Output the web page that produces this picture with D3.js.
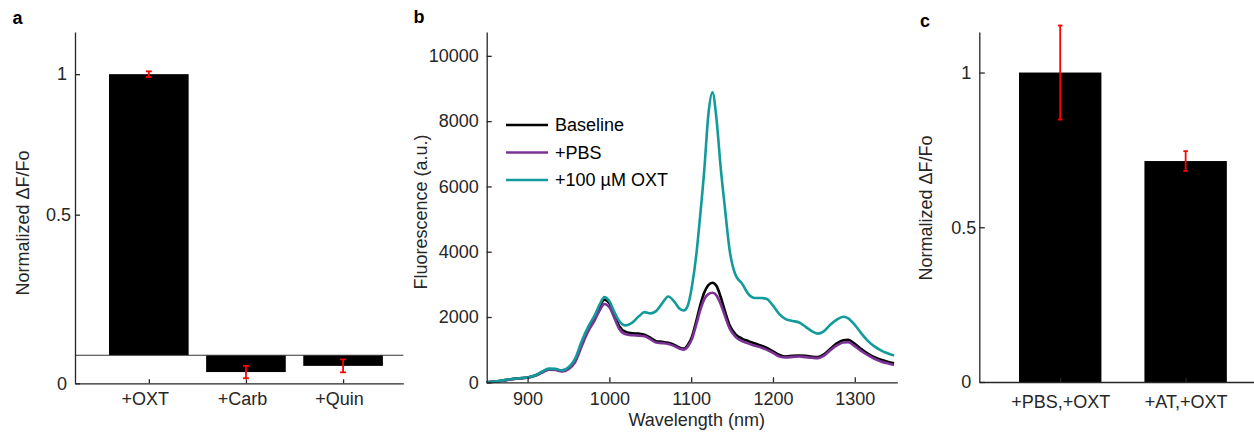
<!DOCTYPE html>
<html><head><meta charset="utf-8">
<script src="https://cdn.jsdelivr.net/npm/d3@7"></script>
<style>
html,body{margin:0;padding:0;background:#fff;}
svg{display:block;font-family:"Liberation Sans",Arial,Helvetica,sans-serif;}
</style></head><body>
<svg id="fig" width="1254" height="432"></svg>
<script>
// ---- Panel a: response to different agonists ----
const agonists = ["+OXT", "+Carb", "+Quin"];
const agonistMean = [1.0, -0.06, -0.038];
const agonistErr = [0.01, 0.022, 0.023];
const panelATicks = [-0.1, 0.5, 1];
const panelATickLabels = ["0", "0.5", "1"];

// ---- Panel b: emission spectra ----
const wavelength = [850, 860, 870, 880, 890, 900, 910, 918, 926, 934, 942, 950, 958, 966, 974, 982, 988, 994,
  1000, 1006, 1012, 1020, 1028, 1036, 1043, 1050, 1057, 1064, 1072, 1080, 1086, 1091, 1096, 1101, 1106, 1111,
  1116, 1121, 1126, 1131, 1136, 1141, 1147, 1154, 1162, 1170, 1178, 1186, 1192, 1200, 1208, 1216, 1224, 1232,
  1240, 1248, 1255, 1262, 1270, 1278, 1286, 1292, 1300, 1308, 1316, 1324, 1332, 1340, 1348];
const baseline = [0, 25, 55, 95, 120, 145, 215, 315, 400, 395, 350, 430, 660, 1180, 1640, 1990, 2320, 2530,
  2420, 2080, 1720, 1540, 1500, 1490, 1460, 1370, 1260, 1240, 1210, 1140, 1060, 1030, 1150, 1400, 1850, 2350,
  2750, 2980, 3050, 2950, 2620, 2200, 1750, 1480, 1340, 1260, 1190, 1120, 1060, 950, 840, 790, 810, 820,
  810, 780, 770, 850, 1020, 1190, 1290, 1300, 1180, 1020, 880, 770, 690, 630, 580];
const pbs = [0, 20, 50, 90, 115, 140, 205, 300, 385, 375, 330, 400, 610, 1100, 1560, 1900, 2200, 2400,
  2300, 1980, 1640, 1470, 1440, 1430, 1410, 1320, 1220, 1200, 1170, 1100, 1030, 1000, 1100, 1330, 1750, 2200,
  2550, 2700, 2745, 2660, 2400, 2050, 1650, 1400, 1260, 1190, 1120, 1060, 1000, 900, 790, 760, 780, 790,
  770, 750, 740, 810, 980, 1130, 1220, 1230, 1110, 960, 830, 720, 640, 580, 530];
const oxt = [0, 25, 60, 100, 125, 150, 225, 330, 420, 410, 365, 460, 720, 1250, 1700, 2050, 2380, 2610,
  2480, 2160, 1880, 1745, 1830, 2020, 2150, 2110, 2180, 2400, 2630, 2450, 2250, 2200, 2360, 2950, 3850, 5100,
  6500, 8200, 8880, 8050, 6600, 5400, 4050, 3300, 3030, 2700, 2580, 2580, 2560, 2350, 2080, 1930, 1880, 1830,
  1700, 1560, 1490, 1560, 1760, 1920, 2010, 1960, 1760, 1500, 1270, 1100, 980, 890, 820];
const spectraNames = ["Baseline", "+PBS", "+100 \u00b5M OXT"];
const spectraColors = ["#000000", "#7b3294", "#139b9b"];
const wavelengthTicks = [900, 1000, 1100, 1200, 1300];
const fluorTicks = [0, 2000, 4000, 6000, 8000, 10000];

// ---- Panel c: antagonist block ----
const treatments = ["+PBS,+OXT", "+AT,+OXT"];
const treatmentMean = [1.0, 0.714];
const treatmentErr = [0.152, 0.032];
const panelCTicks = [0, 0.5, 1];

const svg = d3.select("#fig");
const AX = "#262626";
const FS = 18;

function styleAxis(g) {
  g.attr("font-size", FS).attr("font-family", null);
  g.select(".domain").attr("stroke", AX).attr("stroke-width", 1.3);
  g.selectAll(".tick line").attr("stroke", AX).attr("stroke-width", 1.3);
  g.selectAll(".tick text").attr("fill", AX);
}

function panelLabel(txt, x, y) {
  svg.append("text").attr("x", x).attr("y", y).attr("font-size", 18)
    .attr("font-weight", "bold").attr("fill", "#000").text(txt);
}

function yTitle(txt, x, y) {
  svg.append("text").attr("transform", `translate(${x},${y}) rotate(-90)`)
    .attr("text-anchor", "middle").attr("font-size", FS).attr("fill", AX).text(txt);
}

function errorBars(g, xs, ys, means, errs, capW) {
  means.forEach((m, i) => {
    const cx = xs(i + 1);
    const y1 = ys(m - errs[i]), y2 = ys(m + errs[i]);
    g.append("line").attr("x1", cx).attr("x2", cx).attr("y1", y1).attr("y2", y2)
      .attr("stroke", "#ff0000").attr("stroke-width", 1.8);
    [y1, y2].forEach(yy => g.append("line").attr("x1", cx - capW / 2).attr("x2", cx + capW / 2)
      .attr("y1", yy).attr("y2", yy).attr("stroke", "#ff0000").attr("stroke-width", 1.8));
  });
}

// ================= Panel a =================
{
  const x = d3.scaleLinear().domain([0.24, 3.62]).range([75, 403.3]);
  const y = d3.scaleLinear().domain([-0.1, 1.15]).range([383.3, 32]);
  const g = svg.append("g");
  const bw = 0.82;
  g.selectAll("rect.bar").data(agonistMean).join("rect").attr("class", "bar")
    .attr("x", (d, i) => x(i + 1 - bw / 2)).attr("width", x(1 + bw / 2) - x(1 - bw / 2))
    .attr("y", d => Math.min(y(d), y(0))).attr("height", d => Math.abs(y(d) - y(0)))
    .attr("fill", "#000");
  // zero reference line
  g.append("line").attr("x1", x.range()[0]).attr("x2", x.range()[1])
    .attr("y1", y(0)).attr("y2", y(0)).attr("stroke", "#333").attr("stroke-width", 1.1);
  errorBars(g, x, y, agonistMean, agonistErr, 6);

  const ya = g.append("g").attr("transform", `translate(${x.range()[0]},0)`)
    .call(d3.axisLeft(y).tickValues(panelATicks).tickFormat((d, i) => panelATickLabels[i])
      .tickSizeInner(-5).tickSizeOuter(0).tickPadding(8));
  styleAxis(ya);
  ya.selectAll(".tick text").filter(d => d === 0.5).attr("x", -4);
  const xa = g.append("g").attr("transform", `translate(0,${y.range()[0]})`)
    .call(d3.axisBottom(x).tickValues([1, 2, 3]).tickFormat(d => agonists[d - 1])
      .tickSizeInner(-4).tickSizeOuter(0).tickPadding(9));
  styleAxis(xa);
  xa.selectAll(".tick text").attr("dx", -4);
  yTitle("Normalized \u0394F/Fo", 28.5, 223);
  panelLabel("a", 12.5, 24);
}

// ================= Panel b =================
{
  const x = d3.scaleLinear().domain([850, 1352]).range([486.7, 897.3]);
  const y = d3.scaleLinear().domain([0, 10730]).range([382.3, 32]);
  const g = svg.append("g");
  const series = [baseline, pbs, oxt];
  const line = d3.line().x(d => x(d[0])).y(d => y(d[1])).curve(d3.curveMonotoneX);
  series.forEach((vals, k) => {
    g.append("path").datum(wavelength.map((w, i) => [w, vals[i]]))
      .attr("d", line).attr("fill", "none").attr("stroke", spectraColors[k])
      .attr("stroke-width", 2.6).attr("stroke-linejoin", "round");
  });
  const ya = g.append("g").attr("transform", `translate(${x.range()[0]},0)`)
    .call(d3.axisLeft(y).tickValues(fluorTicks).tickFormat(d3.format("d"))
      .tickSizeInner(-5).tickSizeOuter(0).tickPadding(8));
  styleAxis(ya);
  const xa = g.append("g").attr("transform", `translate(0,${y.range()[0]})`)
    .call(d3.axisBottom(x).tickValues(wavelengthTicks).tickFormat(d3.format("d"))
      .tickSizeInner(-5).tickSizeOuter(0).tickPadding(10));
  styleAxis(xa);
  yTitle("Fluorescence (a.u.)", 427, 212);
  svg.append("text").attr("x", 696.7).attr("y", 425.5).attr("text-anchor", "middle")
    .attr("font-size", FS).attr("fill", AX).text("Wavelength (nm)");

  // legend
  const lg = g.append("g");
  spectraNames.forEach((name, k) => {
    const ly = 125 + k * 27.5;
    lg.append("line").attr("x1", 506).attr("x2", 548).attr("y1", ly).attr("y2", ly)
      .attr("stroke", spectraColors[k]).attr("stroke-width", 2.6);
    lg.append("text").attr("x", 555).attr("y", ly).attr("dy", "0.35em")
      .attr("font-size", FS).attr("fill", "#000").text(name);
  });
  panelLabel("b", 413.5, 23.3);
}

// ================= Panel c =================
{
  const x = d3.scaleLinear().domain([0.355, 2.545]).range([979.3, 1254]);
  const y = d3.scaleLinear().domain([0, 1.131]).range([382, 32]);
  const g = svg.append("g");
  const bw = 0.657;
  g.selectAll("rect.bar").data(treatmentMean).join("rect").attr("class", "bar")
    .attr("x", (d, i) => x(i + 1 - bw / 2)).attr("width", x(1 + bw / 2) - x(1 - bw / 2))
    .attr("y", d => y(d)).attr("height", d => y(0) - y(d)).attr("fill", "#000");
  errorBars(g, x, y, treatmentMean, treatmentErr, 4.5);

  const ya = g.append("g").attr("transform", `translate(${x.range()[0]},0)`)
    .call(d3.axisLeft(y).tickValues(panelCTicks).tickFormat(d => d === 0.5 ? "0.5" : d3.format("d")(d))
      .tickSizeInner(-5.5).tickSizeOuter(0).tickPadding(8));
  styleAxis(ya);
  ya.selectAll(".tick text").filter(d => d === 0.5).attr("x", -3);
  const xa = g.append("g").attr("transform", `translate(0,${y.range()[0]})`)
    .call(d3.axisBottom(x).tickValues([1, 2]).tickFormat(d => treatments[d - 1])
      .tickSizeInner(-4).tickSizeOuter(0).tickPadding(13.5));
  styleAxis(xa);
  yTitle("Normalized \u0394F/Fo", 932, 208);
  panelLabel("c", 920, 27);
}
</script>
</body></html>
